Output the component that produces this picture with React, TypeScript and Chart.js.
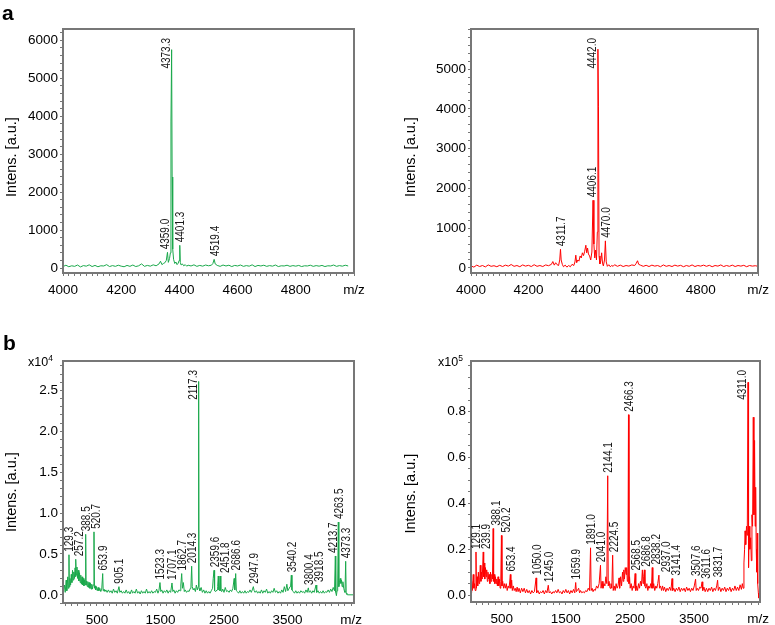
import React, { useEffect, useRef } from "react";
import { Chart, registerables } from "chart.js";

Chart.register(...registerables);

const FONT = "'Liberation Sans', Arial, Helvetica, sans-serif";
const GREEN = "#1aa84b";
const RED = "#ff0000";
const FRAME = "#777777";
const Y_TITLE = "Intens. [a.u.]";

// ---------- Panel a (left): m/z vs intensity ----------
const TL_SPECTRUM: [number, number][] = [
  [4000, 40], [4010, 75], [4020, 35], [4030, 60], [4040, 45], [4050, 80], [4060, 30], [4070, 65], [4080, 50], [4090, 85],
  [4100, 40], [4110, 70], [4120, 35], [4130, 60], [4140, 55], [4150, 90], [4160, 40], [4170, 65], [4180, 45], [4190, 75],
  [4200, 50], [4210, 35], [4220, 70], [4230, 45], [4240, 80], [4250, 40], [4260, 60], [4270, 110], [4280, 45], [4290, 70],
  [4300, 50], [4310, 85], [4320, 60], [4330, 110], [4335, 180], [4340, 90], [4345, 120], [4350, 140], [4355, 200], [4359, 415],
  [4362, 150], [4366, 250], [4369, 400], [4371, 3850], [4373.3, 5755], [4375, 2400], [4377, 500], [4380, 230], [4384, 120], [4388, 160],
  [4392, 90], [4396, 130], [4399, 200], [4401.3, 600], [4403, 150], [4406, 80], [4410, 110], [4415, 60], [4420, 90], [4425, 50],
  [4430, 75], [4440, 55], [4450, 85], [4460, 45], [4470, 70], [4480, 50], [4490, 80], [4500, 60], [4510, 75], [4515, 120],
  [4519.4, 230], [4523, 110], [4530, 70], [4540, 45], [4550, 80], [4560, 55], [4570, 75], [4580, 40], [4590, 70], [4600, 55],
  [4610, 80], [4620, 45], [4630, 65], [4640, 50], [4650, 85], [4660, 40], [4670, 70], [4680, 55], [4690, 75], [4700, 45],
  [4710, 65], [4720, 50], [4730, 80], [4740, 40], [4750, 60], [4760, 55], [4770, 75], [4780, 45], [4790, 65], [4800, 50],
  [4810, 70], [4820, 40], [4830, 60], [4840, 55], [4850, 75], [4860, 45], [4870, 65], [4880, 50], [4890, 70], [4900, 40],
  [4910, 60], [4920, 55], [4930, 80], [4940, 45], [4950, 65], [4960, 50], [4970, 75], [4980, 55],
];
const TL_LABEL_MZ = [4359, 4373.3, 4401.3, 4519.4];
const TL_LABEL_TEXT = ["4359.0", "4373.3", "4401.3", "4519.4"];
const TL_Y_MAJOR = [0, 1000, 2000, 3000, 4000, 5000, 6000];
const TOP_X_MAJOR = [4000, 4200, 4400, 4600, 4800, 5000];

// ---------- Panel a (right) ----------
const TR_SPECTRUM: [number, number][] = [
  [4000, 50], [4010, 20], [4020, 70], [4030, 35], [4040, 60], [4050, 25], [4060, 75], [4070, 40], [4080, 55], [4090, 30],
  [4100, 65], [4110, 35], [4120, 70], [4130, 45], [4140, 85], [4150, 40], [4160, 60], [4170, 30], [4180, 75], [4190, 45],
  [4200, 65], [4210, 35], [4220, 80], [4230, 40], [4240, 60], [4250, 35], [4260, 75], [4270, 55], [4280, 90], [4285, 160],
  [4290, 70], [4295, 130], [4300, 80], [4305, 60], [4309, 200], [4311.7, 470], [4314, 200], [4318, 90], [4322, 30], [4328, 70],
  [4334, 20], [4340, 60], [4346, 30], [4352, 90], [4358, 60], [4362, 150], [4365, 320], [4368, 130], [4372, 200], [4376, 170],
  [4380, 300], [4384, 250], [4388, 380], [4392, 310], [4396, 420], [4400, 570], [4403, 380], [4406, 500], [4409, 350], [4413, 300],
  [4417, 200], [4421, 400], [4425, 1700], [4428, 600], [4431, 250], [4434, 450], [4437, 200], [4440, 900], [4442, 5500], [4444, 4050],
  [4446, 300], [4449, 100], [4452, 180], [4455, 380], [4458, 120], [4461, 50], [4465, 200], [4468, 680], [4471, 150], [4475, 40],
  [4480, 80], [4485, 30], [4490, 60], [4495, 40], [4500, 80], [4510, 40], [4520, 70], [4530, 35], [4540, 60], [4550, 45],
  [4560, 75], [4570, 60], [4575, 110], [4580, 180], [4584, 90], [4590, 70], [4600, 40], [4610, 65], [4620, 35], [4630, 70],
  [4640, 45], [4650, 60], [4660, 30], [4670, 75], [4680, 40], [4690, 60], [4700, 35], [4710, 70], [4720, 45], [4730, 65],
  [4740, 30], [4750, 60], [4760, 40], [4770, 75], [4780, 35], [4790, 60], [4800, 45], [4810, 70], [4820, 40], [4830, 65],
  [4840, 30], [4850, 60], [4860, 45], [4870, 75], [4880, 35], [4890, 60], [4900, 40], [4910, 70], [4920, 35], [4930, 60],
  [4940, 45], [4950, 65], [4960, 30], [4970, 60], [4980, 45], [4990, 55], [5000, 40],
];
const TR_LABEL_MZ = [4311.7, 4425, 4442, 4468];
const TR_LABEL_TEXT = ["4311.7", "4406.1", "4442.0", "4470.0"];
const TR_Y_MAJOR = [0, 1000, 2000, 3000, 4000, 5000];

// ---------- Panel b (left): intensity in x10^4 ----------
const BL_SPECTRUM: [number, number][] = [
  [-30, 0.02], [-10, 0.12], [0, 0.03], [15, 0.18], [25, 0.05], [40, 0.22], [50, 0.08], [59, 0.49], [64, 0.1], [75, 0.2],
  [85, 0.12], [95, 0.25], [105, 0.15], [115, 0.3], [125, 0.18], [135, 0.28], [145, 0.2], [155, 0.33], [162, 0.22], [169, 0.435],
  [175, 0.24], [185, 0.34], [195, 0.2], [205, 0.3], [215, 0.17], [225, 0.27], [235, 0.15], [245, 0.24], [255, 0.13], [265, 0.22],
  [275, 0.12], [285, 0.2], [295, 0.11], [305, 0.18], [315, 0.12], [322, 0.74], [328, 0.12], [338, 0.17], [348, 0.1], [358, 0.16],
  [368, 0.09], [378, 0.15], [388, 0.08], [398, 0.14], [408, 0.07], [418, 0.13], [428, 0.07], [440, 0.12], [453, 0.77], [460, 0.08],
  [470, 0.11], [480, 0.06], [492, 0.1], [505, 0.05], [518, 0.09], [530, 0.05], [545, 0.08], [560, 0.04], [575, 0.07], [590, 0.26],
  [598, 0.05], [610, 0.07], [625, 0.04], [640, 0.06], [660, 0.03], [680, 0.06], [700, 0.03], [720, 0.05], [740, 0.02], [760, 0.07],
  [780, 0.03], [800, 0.05], [820, 0.02], [846, 0.1], [860, 0.03], [880, 0.05], [900, 0.02], [920, 0.04], [940, 0.02], [960, 0.06],
  [980, 0.02], [1000, 0.04], [1020, 0.01], [1045, 0.06], [1060, 0.02], [1080, 0.04], [1100, 0.02], [1120, 0.07], [1140, 0.02], [1160, 0.04],
  [1180, 0.01], [1200, 0.05], [1220, 0.02], [1240, 0.04], [1260, 0.02], [1280, 0.07], [1300, 0.02], [1320, 0.04], [1340, 0.02], [1360, 0.05],
  [1380, 0.02], [1400, 0.04], [1420, 0.03], [1440, 0.07], [1460, 0.02], [1475, 0.05], [1492, 0.15], [1505, 0.04], [1520, 0.06], [1540, 0.02],
  [1560, 0.05], [1580, 0.03], [1600, 0.06], [1620, 0.02], [1640, 0.05], [1660, 0.03], [1681, 0.145], [1695, 0.04], [1710, 0.06], [1730, 0.02],
  [1750, 0.05], [1770, 0.03], [1790, 0.06], [1810, 0.05], [1820, 0.12], [1834, 0.26], [1845, 0.08], [1860, 0.15], [1875, 0.04], [1890, 0.06],
  [1910, 0.03], [1930, 0.05], [1950, 0.04], [1970, 0.08], [1980, 0.12], [1991, 0.35], [2000, 0.1], [2015, 0.06], [2030, 0.08], [2050, 0.04],
  [2065, 0.12], [2080, 0.06], [2095, 0.1], [2101, 2.61], [2107, 0.08], [2120, 0.05], [2140, 0.09], [2160, 0.03], [2180, 0.06], [2200, 0.02],
  [2220, 0.05], [2240, 0.02], [2260, 0.04], [2280, 0.02], [2300, 0.05], [2320, 0.08], [2330, 0.2], [2343, 0.3], [2352, 0.05], [2370, 0.04],
  [2390, 0.06], [2400, 0.1], [2410, 0.23], [2420, 0.06], [2432, 0.05], [2442, 0.23], [2450, 0.05], [2465, 0.04], [2480, 0.07], [2500, 0.03],
  [2520, 0.09], [2540, 0.04], [2560, 0.05], [2580, 0.03], [2600, 0.06], [2620, 0.04], [2640, 0.08], [2660, 0.2], [2670, 0.06], [2684, 0.26],
  [2695, 0.05], [2710, 0.04], [2730, 0.02], [2750, 0.05], [2770, 0.02], [2790, 0.04], [2810, 0.02], [2830, 0.05], [2850, 0.02], [2870, 0.04],
  [2890, 0.03], [2910, 0.06], [2930, 0.03], [2950, 0.07], [2962, 0.1], [2975, 0.05], [2990, 0.03], [3010, 0.05], [3030, 0.02], [3050, 0.04],
  [3070, 0.02], [3090, 0.06], [3110, 0.02], [3130, 0.05], [3150, 0.03], [3170, 0.07], [3190, 0.02], [3210, 0.04], [3230, 0.02], [3250, 0.05],
  [3270, 0.03], [3290, 0.08], [3310, 0.03], [3330, 0.05], [3350, 0.02], [3370, 0.04], [3390, 0.02], [3410, 0.06], [3430, 0.03], [3450, 0.1],
  [3470, 0.04], [3490, 0.13], [3505, 0.05], [3520, 0.07], [3540, 0.1], [3550, 0.12], [3560, 0.24], [3570, 0.06], [3590, 0.04], [3610, 0.02],
  [3630, 0.05], [3650, 0.02], [3670, 0.04], [3690, 0.02], [3710, 0.05], [3730, 0.03], [3750, 0.04], [3770, 0.02], [3790, 0.06], [3810, 0.03],
  [3828, 0.085], [3840, 0.03], [3860, 0.05], [3880, 0.02], [3900, 0.05], [3920, 0.03], [3949, 0.12], [3960, 0.03], [3980, 0.05], [4000, 0.02],
  [4020, 0.04], [4040, 0.02], [4060, 0.05], [4080, 0.02], [4100, 0.04], [4120, 0.03], [4140, 0.06], [4160, 0.03], [4180, 0.07], [4200, 0.04],
  [4220, 0.09], [4240, 0.05], [4253, 0.475], [4260, 0.03], [4270, -0.01], [4280, 0.05], [4290, 0.12], [4300, 0.89], [4308, 0.1], [4318, 0.15],
  [4330, 0.2], [4340, 0.14], [4350, 0.18], [4360, 0.1], [4372, 0.16], [4385, 0.08], [4395, 0.05], [4405, 0.03], [4416, 0.41], [4424, 0.02],
  [4435, 0.005], [4450, 0], [4500, 0], [4545, 0],
];
const BL_LABEL_MZ = [59, 169, 322, 453, 590, 846, 1492, 1681, 1834, 1991, 2101, 2343, 2442, 2684, 2962, 3560, 3828, 3949, 4253, 4300, 4416];
const BL_LABEL_TEXT = ["129.3", "257.2", "388.5", "520.7", "653.9", "905.1", "1523.3", "1707.1", "1862.7", "2014.3", "2117.3",
  "2359.6", "2451.8", "2686.6", "2947.9", "3540.2", "3800.4", "3918.5", "4213.7", "4263.5", "4373.3"];
const BL_Y_MAJOR = [0, 0.5, 1.0, 1.5, 2.0, 2.5];
const BOTTOM_X_MAJOR = [500, 1500, 2500, 3500, 4500];

// ---------- Panel b (right): intensity in x10^5 ----------
const BR_SPECTRUM: [number, number][] = [
  [20, 0.01], [30, 0.06], [40, 0.02], [55, 0.09], [65, 0.03], [75, 0.05], [85, 0.02], [98, 0.188], [105, 0.03], [115, 0.08],
  [125, 0.04], [135, 0.1], [145, 0.05], [155, 0.07], [165, 0.13], [175, 0.06], [185, 0.1], [195, 0.07], [211, 0.188], [218, 0.08],
  [226, 0.14], [235, 0.07], [245, 0.12], [255, 0.08], [265, 0.11], [275, 0.06], [285, 0.1], [295, 0.07], [305, 0.09], [315, 0.05],
  [325, 0.1], [335, 0.06], [345, 0.09], [355, 0.07], [366, 0.29], [373, 0.06], [382, 0.09], [392, 0.05], [402, 0.08], [412, 0.05],
  [422, 0.07], [432, 0.04], [442, 0.08], [452, 0.04], [462, 0.07], [475, 0.03], [485, 0.06], [495, 0.26], [503, 0.04], [515, 0.06],
  [528, 0.03], [540, 0.05], [555, 0.03], [570, 0.05], [585, 0.02], [600, 0.04], [615, 0.03], [634, 0.09], [642, 0.03], [655, 0.065],
  [665, 0.02], [680, 0.04], [695, 0.02], [710, 0.03], [725, 0.015], [740, 0.035], [755, 0.015], [770, 0.03], [790, 0.01], [810, 0.03],
  [830, 0.015], [850, 0.03], [870, 0.01], [890, 0.025], [910, 0.01], [930, 0.02], [950, 0.005], [970, 0.02], [990, 0.01], [1010, 0.015],
  [1036, 0.075], [1045, 0.01], [1065, 0.02], [1085, 0.005], [1105, 0.015], [1125, 0.01], [1145, 0.02], [1165, 0.005], [1185, 0.02], [1205, 0.01],
  [1226, 0.043], [1240, 0.01], [1260, 0.015], [1280, 0.005], [1300, 0.015], [1320, 0.01], [1340, 0.02], [1360, 0.01], [1380, 0.025], [1400, 0.01],
  [1420, 0.015], [1440, 0.005], [1460, 0.02], [1480, 0.01], [1500, 0.025], [1520, 0.01], [1540, 0.02], [1560, 0.005], [1580, 0.02], [1600, 0.01],
  [1620, 0.025], [1640, 0.01], [1654, 0.055], [1665, 0.015], [1680, 0.02], [1700, 0.03], [1715, 0.01], [1730, 0.02], [1750, 0.01], [1770, 0.015],
  [1790, 0.01], [1810, 0.02], [1830, 0.015], [1850, 0.03], [1870, 0.02], [1886, 0.206], [1895, 0.02], [1910, 0.03], [1925, 0.015], [1940, 0.025],
  [1960, 0.02], [1980, 0.04], [2000, 0.03], [2020, 0.05], [2041, 0.13], [2050, 0.03], [2065, 0.06], [2080, 0.03], [2095, 0.05], [2110, 0.04],
  [2125, 0.08], [2140, 0.05], [2154, 0.52], [2162, 0.04], [2175, 0.06], [2190, 0.03], [2205, 0.05], [2218, 0.03], [2231, 0.174], [2240, 0.02],
  [2255, 0.04], [2270, 0.02], [2285, 0.05], [2300, 0.03], [2315, 0.04], [2330, 0.075], [2340, 0.03], [2355, 0.08], [2370, 0.04], [2385, 0.1],
  [2395, 0.06], [2405, 0.11], [2415, 0.07], [2428, 0.12], [2440, 0.09], [2450, 0.12], [2460, 0.06], [2470, 0.1], [2478, 0.786], [2486, 0.05],
  [2495, 0.08], [2505, 0.03], [2520, 0.05], [2535, 0.02], [2550, 0.04], [2565, 0.03], [2582, 0.094], [2592, 0.02], [2605, 0.04], [2620, 0.02],
  [2635, 0.05], [2650, 0.03], [2665, 0.06], [2680, 0.04], [2695, 0.11], [2705, 0.05], [2715, 0.08], [2726, 0.11], [2735, 0.04], [2750, 0.03],
  [2765, 0.05], [2780, 0.02], [2795, 0.04], [2810, 0.03], [2825, 0.05], [2836, 0.03], [2849, 0.12], [2858, 0.03], [2872, 0.05], [2888, 0.02],
  [2905, 0.04], [2920, 0.03], [2935, 0.05], [2953, 0.087], [2962, 0.03], [2978, 0.04], [2995, 0.02], [3010, 0.04], [3025, 0.02], [3040, 0.035],
  [3060, 0.015], [3080, 0.03], [3100, 0.02], [3120, 0.035], [3140, 0.02], [3158, 0.072], [3168, 0.02], [3185, 0.03], [3205, 0.015], [3225, 0.03],
  [3245, 0.02], [3265, 0.035], [3285, 0.015], [3305, 0.03], [3325, 0.02], [3345, 0.03], [3365, 0.015], [3385, 0.035], [3405, 0.02], [3425, 0.03],
  [3445, 0.015], [3465, 0.03], [3485, 0.02], [3505, 0.04], [3525, 0.07], [3535, 0.02], [3550, 0.03], [3570, 0.02], [3590, 0.035], [3610, 0.03],
  [3627, 0.058], [3637, 0.02], [3655, 0.035], [3675, 0.015], [3695, 0.03], [3715, 0.015], [3735, 0.03], [3755, 0.02], [3775, 0.035], [3795, 0.015],
  [3815, 0.03], [3835, 0.02], [3855, 0.04], [3869, 0.065], [3880, 0.02], [3900, 0.035], [3920, 0.015], [3940, 0.03], [3960, 0.02], [3980, 0.035],
  [4000, 0.015], [4020, 0.03], [4040, 0.02], [4060, 0.035], [4080, 0.015], [4100, 0.03], [4120, 0.02], [4140, 0.04], [4160, 0.02], [4180, 0.035],
  [4200, 0.02], [4220, 0.045], [4240, 0.025], [4255, 0.05], [4268, 0.03], [4280, 0.14], [4290, 0.2], [4298, 0.28], [4308, 0.22], [4320, 0.3],
  [4332, 0.26], [4344, 0.927], [4352, 0.12], [4362, 0.3], [4372, 0.2], [4385, 0.25], [4395, 0.15], [4405, 0.35], [4415, 0.3], [4426, 0.775],
  [4436, 0.35], [4446, 0.674], [4455, 0.3], [4463, 0.47], [4472, 0.2], [4480, 0.1], [4488, 0.27], [4495, 0.05], [4505, 0.01], [4514, -0.013],
  [4522, 0.005], [4530, 0],
];
const BR_LABEL_MZ = [98, 211, 366, 495, 634, 1036, 1226, 1654, 1886, 2041, 2154, 2231, 2478, 2582, 2695, 2849, 2953, 3158, 3525, 3627, 3869, 4344];
const BR_LABEL_TEXT = ["129.1", "239.9", "388.1", "520.2", "653.4", "1050.0", "1245.0", "1659.9", "1891.0", "2041.0", "2144.1",
  "2224.5", "2466.3", "2568.5", "2686.8", "2838.2", "2937.0", "3141.4", "3507.6", "3611.6", "3831.7", "4311.0"];
const BR_Y_MAJOR = [0, 0.2, 0.4, 0.6, 0.8];

// ---------- helpers ----------
function withMinor(min: number, max: number, step: number, majors: number[]) {
  const vals: number[] = [];
  const start = Math.ceil(min / step);
  const end = Math.floor(max / step);
  for (let k = start; k <= end; k++) vals.push(Math.round(k * step * 1e6) / 1e6);
  majors.forEach((m) => { if (m >= min && m <= max && !vals.some((v) => Math.abs(v - m) < 1e-6)) vals.push(m); });
  vals.sort((a, b) => a - b);
  return vals.map((v) => ({ value: v }));
}

const COND = 0.8;
const LABEL_SIZE = 12.5;

function makeOverlayPlugin(positions: number[], texts: string[]) {
  return {
    id: "peakOverlay",
    afterDraw(chart: any) {
      const ctx = chart.ctx as CanvasRenderingContext2D;
      const chartArea = chart.chartArea;
      const L = Math.round(chartArea.left);
      const T = Math.round(chartArea.top);
      const R = Math.round(chartArea.right);
      const B = Math.round(chartArea.bottom);
      const xs = chart.scales.x;
      const ys = chart.scales.y;

      ctx.save();
      ctx.fillStyle = FRAME;
      ctx.fillRect(L - 1, T - 1, R - L + 2, 2);
      ctx.fillRect(L - 1, B - 1, R - L + 2, 2);
      ctx.fillRect(L - 1, T - 1, 2, B - T + 2);
      ctx.fillRect(R - 1, T - 1, 2, B - T + 2);
      ctx.restore();

      const pts = chart.data.datasets[0].data as { x: number; y: number }[];
      const pix = pts.map((p) => ({ x: xs.getPixelForValue(p.x), y: ys.getPixelForValue(p.y) }));
      const placed: { l: number; r: number; t: number; b: number }[] = [];
      ctx.save();
      ctx.font = `${LABEL_SIZE}px ${FONT}`;
      ctx.fillStyle = "#1a1a1a";
      const h = LABEL_SIZE * 0.72;
      positions.forEach((mz, i) => {
        const text = texts[i];
        const px = xs.getPixelForValue(mz);
        let py = Infinity;
        for (const p of pix) if (Math.abs(p.x - px) <= 1.2 && p.y < py) py = p.y;
        const len = ctx.measureText(text).width * COND;
        let b = py - 3;
        let t = b - len;
        let l: number, r: number;
        if (t < chartArea.top + 9) {
          t = chartArea.top + 9;
          b = t + len;
          r = px - 2;
          l = r - h;
        } else {
          l = px - h / 2;
          r = px + h / 2;
          for (const p of pix) {
            if (Math.abs(p.x - px) > 1.2 && p.x > l - 0.5 && p.x < r + 0.5 && p.y < b) {
              if (p.x > px) { r = p.x - 1.5; l = r - h; } else { l = p.x + 1.5; r = l + h; }
            }
          }
        }
        let moved = true;
        let guard = 0;
        while (moved && guard++ < 30) {
          moved = false;
          for (const q of placed) {
            if (l < q.r - 0.5 && r > q.l + 0.5 && t < q.b - 1.5 && b > q.t + 1.5) {
              const w = r - l;
              l = q.r + 1;
              r = l + w;
              moved = true;
            }
          }
        }
        placed.push({ l, r, t, b });
        ctx.save();
        ctx.translate(r, b);
        ctx.rotate(-Math.PI / 2);
        ctx.scale(COND, 1);
        ctx.textAlign = "left";
        ctx.textBaseline = "alphabetic";
        ctx.fillText(text, 0, 0);
        ctx.restore();
      });
      ctx.restore();
    },
  };
}

type PanelCfg = {
  spectrum: [number, number][];
  color: string;
  xMin: number; xMax: number; xMajor: number[]; xMinorStep: number;
  yMin: number; yMax: number; yMajor: number[]; yMinorStep: number; yDecimals: number;
  padTop: number; padRight: number; yAxisWidth: number; xAxisHeight: number; titlePad: number; titleShift: number;
  labelMz: number[]; labelText: string[];
};

function buildConfig(c: PanelCfg): any {
  const lastX = c.xMajor[c.xMajor.length - 1];
  const gridOpts = { display: true, drawOnChartArea: false, drawTicks: true, tickLength: 3, color: FRAME, tickColor: FRAME, lineWidth: 1 };
  return {
    type: "line",
    data: {
      datasets: [{
        data: c.spectrum.map(([x, y]) => ({ x, y })),
        borderColor: c.color,
        borderWidth: 1,
        pointRadius: 0,
        tension: 0,
        fill: false,
      }],
    },
    options: {
      animation: false,
      responsive: false,
      events: [],
      layout: { padding: { top: c.padTop, right: c.padRight, bottom: 0, left: 0 } },
      plugins: { legend: { display: false }, tooltip: { enabled: false }, title: { display: false } },
      scales: {
        x: {
          type: "linear",
          min: c.xMin,
          max: c.xMax,
          afterBuildTicks: (s: any) => { s.ticks = withMinor(c.xMin, c.xMax, c.xMinorStep, c.xMajor); },
          afterFit: (s: any) => { s.height = c.xAxisHeight; },
          ticks: {
            autoSkip: false, maxRotation: 0, minRotation: 0, padding: 6, color: "#000",
            font: { family: FONT, size: 13.5 },
            callback: (v: number) => {
              const m = c.xMajor.find((mm) => Math.abs(mm - v) < 1e-6);
              if (m === undefined) return "";
              return m === lastX ? "m/z" : String(m);
            },
          },
          grid: gridOpts,
          border: { display: true, color: FRAME, width: 1 },
        },
        y: {
          type: "linear",
          min: c.yMin,
          max: c.yMax,
          afterBuildTicks: (s: any) => { s.ticks = withMinor(c.yMin, c.yMax, c.yMinorStep, c.yMajor); },
          afterFit: (s: any) => { s.width = c.yAxisWidth; },
          ticks: {
            autoSkip: false, padding: 2, color: "#000",
            font: { family: FONT, size: 13.5 },
            callback: (v: number) => {
              const m = c.yMajor.find((mm) => Math.abs(mm - v) < 1e-6);
              if (m === undefined) return "";
              return m.toFixed(c.yDecimals);
            },
          },
          grid: gridOpts,
          border: { display: true, color: FRAME, width: 1 },
          title: {
            display: true, text: Y_TITLE + " ".repeat(c.titleShift), color: "#000",
            font: { family: FONT, size: 14.5 },
            padding: { top: c.titlePad, bottom: 0 },
          },
        },
      },
    },
    plugins: [makeOverlayPlugin(c.labelMz, c.labelText)],
  };
}

function Panel({ left, top, width, height, cfg }: { left: number; top: number; width: number; height: number; cfg: PanelCfg }) {
  const ref = useRef<HTMLCanvasElement>(null);
  useEffect(() => {
    const chart = new Chart(ref.current as HTMLCanvasElement, buildConfig(cfg));
    return () => chart.destroy();
  }, []);
  return (
    <canvas ref={ref} width={width} height={height}
      style={{ position: "absolute", left, top, width, height, display: "block" }} />
  );
}

const TL_CFG: PanelCfg = {
  spectrum: TL_SPECTRUM, color: GREEN,
  xMin: 4000, xMax: 5000, xMajor: TOP_X_MAJOR, xMinorStep: 20,
  yMin: -130, yMax: 6300, yMajor: TL_Y_MAJOR, yMinorStep: 200, yDecimals: 0,
  padTop: 29, padRight: 31, yAxisWidth: 63, xAxisHeight: 37, titlePad: 3.3, titleShift: 3,
  labelMz: TL_LABEL_MZ, labelText: TL_LABEL_TEXT,
};
const TR_CFG: PanelCfg = {
  spectrum: TR_SPECTRUM, color: RED,
  xMin: 4000, xMax: 5000, xMajor: TOP_X_MAJOR, xMinorStep: 20,
  yMin: -128, yMax: 6008, yMajor: TR_Y_MAJOR, yMinorStep: 200, yDecimals: 0,
  padTop: 29, padRight: 12, yAxisWidth: 86, xAxisHeight: 37, titlePad: 17.3, titleShift: 3,
  labelMz: TR_LABEL_MZ, labelText: TR_LABEL_TEXT,
};
const BL_CFG: PanelCfg = {
  spectrum: BL_SPECTRUM, color: GREEN,
  xMin: -35, xMax: 4547, xMajor: BOTTOM_X_MAJOR, xMinorStep: 100,
  yMin: -0.1, yMax: 2.86, yMajor: BL_Y_MAJOR, yMinorStep: 0.1, yDecimals: 1,
  padTop: 51, padRight: 31, yAxisWidth: 63, xAxisHeight: 22, titlePad: 3.3, titleShift: 5,
  labelMz: BL_LABEL_MZ, labelText: BL_LABEL_TEXT,
};
const BR_CFG: PanelCfg = {
  spectrum: BR_SPECTRUM, color: RED,
  xMin: 20, xMax: 4535, xMajor: BOTTOM_X_MAJOR, xMinorStep: 100,
  yMin: -0.03, yMax: 1.02, yMajor: BR_Y_MAJOR, yMinorStep: 0.05, yDecimals: 1,
  padTop: 51, padRight: 12, yAxisWidth: 86, xAxisHeight: 23, titlePad: 17.3, titleShift: 6,
  labelMz: BR_LABEL_MZ, labelText: BR_LABEL_TEXT,
};

const textBase: React.CSSProperties = { position: "absolute", fontFamily: FONT, color: "#000", whiteSpace: "nowrap" };

export default function App() {
  return (
    <div style={{ position: "absolute", left: 0, top: 0, width: 775, height: 625, background: "#fff", overflow: "hidden" }}>
      <Panel left={0} top={0} width={385} height={310} cfg={TL_CFG} />
      <Panel left={385} top={0} width={390} height={310} cfg={TR_CFG} />
      <Panel left={0} top={310} width={385} height={315} cfg={BL_CFG} />
      <Panel left={385} top={310} width={390} height={315} cfg={BR_CFG} />
      <div style={{ ...textBase, left: 2, top: 2, fontSize: 21, lineHeight: "21px", fontWeight: "bold" }}>a</div>
      <div style={{ ...textBase, left: 3, top: 332, fontSize: 21, lineHeight: "21px", fontWeight: "bold" }}>b</div>
      <div style={{ ...textBase, left: 28, top: 356, fontSize: 12.5, lineHeight: "12.5px" }}>
        x10<span style={{ fontSize: 8.5, position: "relative", top: -5 }}>4</span>
      </div>
      <div style={{ ...textBase, left: 438, top: 356, fontSize: 12.5, lineHeight: "12.5px" }}>
        x10<span style={{ fontSize: 8.5, position: "relative", top: -5 }}>5</span>
      </div>
    </div>
  );
}
